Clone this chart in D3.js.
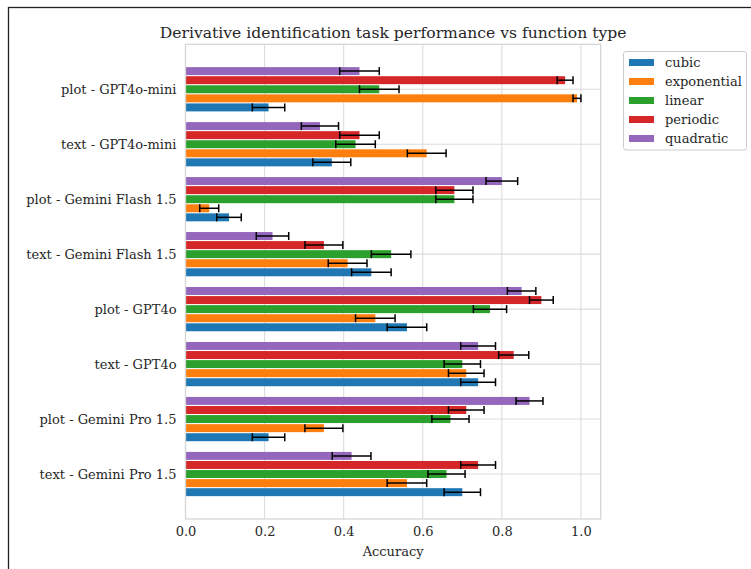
<!DOCTYPE html>
<html>
<head>
<meta charset="utf-8">
<script src="https://cdn.jsdelivr.net/npm/d3@7"></script>
<style>
  html, body { margin: 0; padding: 0; background: #fff; }
  svg { display: block; }
  text { font-family: "DejaVu Serif", serif; fill: #262626; }
</style>
</head>
<body>
<svg id="chart" width="751" height="569"></svg>
<script>
const categories = [
  "plot - GPT4o-mini",
  "text - GPT4o-mini",
  "plot - Gemini Flash 1.5",
  "text - Gemini Flash 1.5",
  "plot - GPT4o",
  "text - GPT4o",
  "plot - Gemini Pro 1.5",
  "text - Gemini Pro 1.5"
];
const seriesNames = ["cubic", "exponential", "linear", "periodic", "quadratic"];
const seriesColors = ["#1f77b4", "#ff7f0e", "#2ca02c", "#d62728", "#9467bd"];

const cubic       = [0.21, 0.37, 0.11, 0.47, 0.56, 0.74, 0.21, 0.70];
const exponential = [0.99, 0.61, 0.06, 0.41, 0.48, 0.71, 0.35, 0.56];
const linear      = [0.49, 0.43, 0.68, 0.52, 0.77, 0.70, 0.67, 0.66];
const periodic    = [0.96, 0.44, 0.68, 0.35, 0.90, 0.83, 0.71, 0.74];
const quadratic   = [0.44, 0.34, 0.80, 0.22, 0.85, 0.74, 0.87, 0.42];

const cubicErr       = [0.041, 0.048, 0.031, 0.050, 0.050, 0.044, 0.041, 0.046];
const exponentialErr = [0.010, 0.049, 0.024, 0.049, 0.050, 0.045, 0.048, 0.050];
const linearErr      = [0.050, 0.050, 0.047, 0.050, 0.042, 0.046, 0.047, 0.047];
const periodicErr    = [0.020, 0.050, 0.047, 0.048, 0.030, 0.038, 0.045, 0.044];
const quadraticErr   = [0.050, 0.047, 0.040, 0.041, 0.036, 0.044, 0.034, 0.049];

const xTicks = [0.0, 0.2, 0.4, 0.6, 0.8, 1.0];
const title = "Derivative identification task performance vs function type";
const xLabel = "Accuracy";

const values = [cubic, exponential, linear, periodic, quadratic];
const errors = [cubicErr, exponentialErr, linearErr, periodicErr, quadraticErr];

const svg = d3.select("#chart");

// outer figure border
svg.append("rect")
  .attr("x", 8.5).attr("y", 7.5)
  .attr("width", 800).attr("height", 700)
  .attr("fill", "none").attr("stroke", "#222").attr("stroke-width", 1.3);

const plot = { left: 185.5, right: 600.7, top: 44.3, bottom: 519 };

const x = d3.scaleLinear().domain([0, 1.05]).range([plot.left, plot.right]);
const y = d3.scaleLinear().domain([-0.818, categories.length - 1 + 0.818]).range([plot.top, plot.bottom]);
const step = (y(1) - y(0)) * 0.165; // per-bar step
const barH = step - 1.1;

// gridlines
const g = svg.append("g");
g.selectAll("line.vg").data(xTicks).enter().append("line")
  .attr("x1", d => x(d)).attr("x2", d => x(d))
  .attr("y1", plot.top).attr("y2", plot.bottom)
  .attr("stroke", "#dcdcdc").attr("stroke-width", 1.1);
g.selectAll("line.hg").data(categories).enter().append("line")
  .attr("x1", plot.left).attr("x2", plot.right)
  .attr("y1", (d, i) => y(i)).attr("y2", (d, i) => y(i))
  .attr("stroke", "#dcdcdc").attr("stroke-width", 1.1);

// bars: within each group, cubic at the bottom, quadratic on top
const offsetOf = si => (2 - si) * step;
seriesNames.forEach((name, si) => {
  const bars = svg.append("g");
  bars.selectAll("rect").data(values[si]).enter().append("rect")
    .attr("x", x(0))
    .attr("y", (d, i) => y(i) + offsetOf(si) - barH / 2)
    .attr("width", d => x(d) - x(0))
    .attr("height", barH)
    .attr("fill", seriesColors[si]);
});

// error bars
seriesNames.forEach((name, si) => {
  const eg = svg.append("g").attr("stroke", "#000").attr("stroke-width", 1.5);
  values[si].forEach((v, i) => {
    const cy = y(i) + offsetOf(si);
    const e = errors[si][i];
    const x0 = x(v - e), x1 = x(v + e);
    eg.append("line").attr("x1", x0).attr("x2", x1).attr("y1", cy).attr("y2", cy);
    eg.append("line").attr("x1", x0).attr("x2", x0).attr("y1", cy - 4).attr("y2", cy + 4);
    eg.append("line").attr("x1", x1).attr("x2", x1).attr("y1", cy - 4).attr("y2", cy + 4);
  });
});

// plot frame
svg.append("rect")
  .attr("x", plot.left).attr("y", plot.top)
  .attr("width", plot.right - plot.left).attr("height", plot.bottom - plot.top)
  .attr("fill", "none").attr("stroke", "#d6d6d6").attr("stroke-width", 1.3);

// x axis
const xAxis = d3.axisBottom(x).tickValues(xTicks).tickFormat(d3.format(".1f")).tickSize(0).tickPadding(8);
const xa = svg.append("g").attr("transform", `translate(0,${plot.bottom})`).call(xAxis);
xa.select(".domain").remove();
xa.selectAll("text").style("font-family", "DejaVu Serif, serif").style("font-size", "13px").attr("fill", "#262626");

// y axis
const yAxis = d3.axisLeft(y).tickValues(d3.range(categories.length)).tickFormat(i => categories[i]).tickSize(0).tickPadding(9);
const ya = svg.append("g").attr("transform", `translate(${plot.left},0)`).call(yAxis);
ya.select(".domain").remove();
ya.selectAll("text").style("font-family", "DejaVu Serif, serif").style("font-size", "13px").attr("fill", "#262626");

// title
svg.append("text")
  .attr("x", (plot.left + plot.right) / 2).attr("y", 37.5)
  .attr("text-anchor", "middle")
  .style("font-size", "15.6px")
  .text(title);

// x label
svg.append("text")
  .attr("x", (plot.left + plot.right) / 2).attr("y", 556)
  .attr("text-anchor", "middle")
  .style("font-size", "13px")
  .text(xLabel);

// legend
const lg = svg.append("g");
lg.append("rect")
  .attr("x", 623.5).attr("y", 51.5).attr("width", 123).attr("height", 98.5)
  .attr("rx", 2.5).attr("fill", "#fff").attr("stroke", "#cccccc").attr("stroke-width", 1);
seriesNames.forEach((name, si) => {
  const cy = 62.5 + si * 19;
  lg.append("rect").attr("x", 629).attr("y", cy - 3.5).attr("width", 25).attr("height", 7).attr("fill", seriesColors[si]);
  lg.append("text").attr("x", 665).attr("y", cy + 4.5).style("font-size", "13px").text(name);
});
</script>
</body>
</html>
